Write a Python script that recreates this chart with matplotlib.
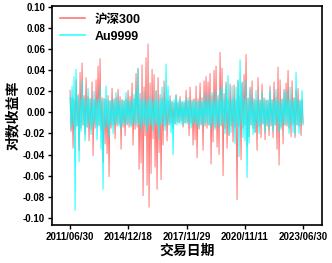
import numpy as np
import matplotlib.pyplot as plt

plt.rcParams['font.family'] = ['Liberation Sans', 'Noto Sans CJK SC', 'DejaVu Sans']
plt.rcParams['font.weight'] = 'bold'
plt.rcParams['axes.unicode_minus'] = False

csi300 = [
    0.021, -0.018, 0.014, -0.034, 0.012, -0.016, 0.031, -0.013, 0.017, -0.036, 0.038, -0.015, 0.047, -0.012, 0.016, -0.021, 0.033, -0.014,
    0.015, -0.027, 0.013, -0.016, 0.029, -0.041, 0.012, -0.015, 0.031, -0.013, 0.044, -0.012, 0.051, -0.017, 0.014, -0.047, 0.013, -0.030,
    0.012, -0.039, 0.016, -0.061, 0.011, -0.015, 0.023, -0.012, 0.013, -0.025, 0.014, -0.013, 0.022, -0.011, 0.015, -0.035, 0.012, -0.014,
    0.011, -0.022, 0.013, -0.012, 0.021, -0.014, 0.015, -0.012, 0.028, -0.031, 0.013, -0.016, 0.037, -0.014, 0.042, -0.054, 0.018, -0.048,
    0.045, -0.079, 0.024, -0.022, 0.052, -0.069, 0.065, -0.090, 0.028, -0.058, 0.041, -0.025, 0.036, -0.052, 0.020, -0.073, 0.033, -0.038,
    0.017, -0.064, 0.014, -0.031, 0.030, -0.013, 0.012, -0.027, 0.011, -0.012, 0.016, -0.010, 0.010, -0.015, 0.009, -0.011, 0.017, -0.009,
    0.009, -0.010, 0.015, -0.008, 0.010, -0.014, 0.009, -0.010, 0.021, -0.009, 0.011, -0.022, 0.024, -0.010, 0.012, -0.031, 0.013, -0.026,
    0.025, -0.043, 0.013, -0.016, 0.028, -0.012, 0.014, -0.036, 0.030, -0.013, 0.034, -0.015, 0.029, -0.012, 0.037, -0.049, 0.016, -0.028,
    0.040, -0.014, 0.044, -0.033, 0.016, -0.040, 0.057, -0.013, 0.042, -0.060, 0.018, -0.015, 0.029, -0.034, 0.012, -0.022, 0.027, -0.013,
    0.013, -0.028, 0.026, -0.014, 0.012, -0.083, 0.030, -0.013, 0.016, -0.045, 0.028, -0.015, 0.036, -0.012, 0.055, -0.032, 0.014, -0.023,
    0.024, -0.012, 0.030, -0.015, 0.013, -0.019, 0.011, -0.036, 0.033, -0.013, 0.012, -0.024, 0.027, -0.011, 0.014, -0.026, 0.012, -0.013,
    0.011, -0.022, 0.025, -0.013, 0.012, -0.024, 0.029, -0.012, 0.014, -0.035, 0.043, -0.050, 0.031, -0.014, 0.013, -0.030, 0.022, -0.012,
    0.028, -0.013, 0.040, -0.015, 0.012, -0.023, 0.030, -0.011, 0.014, -0.024, 0.021, -0.012, 0.023, -0.013, 0.011, -0.022, 0.012, -0.010,
]
au9999 = [
    0.014, -0.016, 0.025, -0.012, 0.034, -0.093, 0.041, -0.013, 0.015, -0.047, 0.013, -0.018, 0.030, -0.012, 0.014, -0.027, 0.012, -0.014,
    0.023, -0.012, 0.013, -0.021, 0.012, -0.014, 0.020, -0.011, 0.013, -0.026, 0.012, -0.013, 0.024, -0.035, 0.011, -0.073, 0.013, -0.015,
    0.025, -0.013, 0.012, -0.024, 0.011, -0.012, 0.013, -0.020, 0.011, -0.012, 0.019, -0.011, 0.012, -0.013, 0.011, -0.016, 0.012, -0.011,
    0.011, -0.012, 0.019, -0.011, 0.012, -0.010, 0.011, -0.014, 0.012, -0.011, 0.017, -0.012, 0.022, -0.011, 0.041, -0.012, 0.013, -0.017,
    0.012, -0.011, 0.019, -0.012, 0.011, -0.018, 0.012, -0.011, 0.016, -0.012, 0.011, -0.017, 0.012, -0.011, 0.021, -0.012, 0.011, -0.025,
    0.013, -0.012, 0.024, -0.011, 0.012, -0.017, 0.046, -0.012, 0.025, -0.011, 0.012, -0.019, 0.011, -0.040, 0.012, -0.011, 0.016, -0.012,
    0.011, -0.010, 0.012, -0.011, 0.010, -0.012, 0.011, -0.010, 0.012, -0.011, 0.014, -0.010, 0.011, -0.015, 0.010, -0.011, 0.012, -0.010,
    0.011, -0.012, 0.010, -0.014, 0.012, -0.011, 0.010, -0.013, 0.017, -0.011, 0.012, -0.010, 0.018, -0.012, 0.011, -0.015, 0.019, -0.011,
    0.012, -0.016, 0.020, -0.011, 0.012, -0.015, 0.022, -0.012, 0.024, -0.011, 0.013, -0.020, 0.026, -0.012, 0.035, -0.021, 0.012, -0.019,
    0.025, -0.012, 0.013, -0.030, 0.024, -0.013, 0.031, -0.042, 0.050, -0.012, 0.029, -0.024, 0.013, -0.027, 0.030, -0.062, 0.012, -0.029,
    0.022, -0.012, 0.013, -0.021, 0.011, -0.019, 0.021, -0.012, 0.013, -0.020, 0.011, -0.012, 0.019, -0.011, 0.012, -0.019, 0.011, -0.012,
    0.012, -0.016, 0.021, -0.011, 0.012, -0.018, 0.011, -0.012, 0.022, -0.011, 0.012, -0.019, 0.011, -0.016, 0.012, -0.011, 0.019, -0.012,
    0.021, -0.011, 0.012, -0.020, 0.024, -0.012, 0.011, -0.019, 0.013, -0.021, 0.038, -0.012, 0.011, -0.020, 0.012, -0.011, 0.021, -0.012,
]
date_labels = ['2011/06/30', '2014/12/18', '2017/11/29', '2020/11/11', '2023/06/30']
y_ticks = [-0.10, -0.08, -0.06, -0.04, -0.02, 0.00, 0.02, 0.04, 0.06, 0.08, 0.10]

fig = plt.figure(figsize=(3.32, 2.63), dpi=100)
ax = fig.add_axes([0.157, 0.144, 0.813, 0.833])

x = np.arange(len(csi300))
ax.plot(x, csi300, color='#FF2020', alpha=0.6, lw=0.7, label='沪深300')
ax.plot(x, au9999, color='#00FFFF', alpha=0.8, lw=0.8, label='Au9999')

n = len(x) - 1
ax.set_xlim(-0.077 * n, 1.0815 * n)
ax.set_ylim(-0.107, 0.101)
ax.set_xticks(np.linspace(0, n, len(date_labels)))
ax.set_xticklabels(date_labels, fontsize=7, fontweight='bold')
ax.set_yticks(y_ticks)
ax.set_yticklabels(['%.2f' % v for v in y_ticks], fontsize=7, fontweight='bold')
ax.tick_params(direction='out', length=3, width=1, pad=2)

for s in ax.spines.values():
    s.set_linewidth(1.2)

ax.set_xlabel('交易日期', fontsize=10, fontweight='bold', labelpad=1)
ax.set_ylabel('对数收益率', fontsize=10, fontweight='bold', labelpad=2)

leg = ax.legend(loc='upper left', frameon=False, fontsize=9, handlelength=2.0,
                borderaxespad=0.2, labelspacing=0.4)
for t in leg.get_texts():
    t.set_fontweight('bold')
for l in leg.get_lines():
    l.set_linewidth(1.2)

fig.savefig('out.png', dpi=100)
